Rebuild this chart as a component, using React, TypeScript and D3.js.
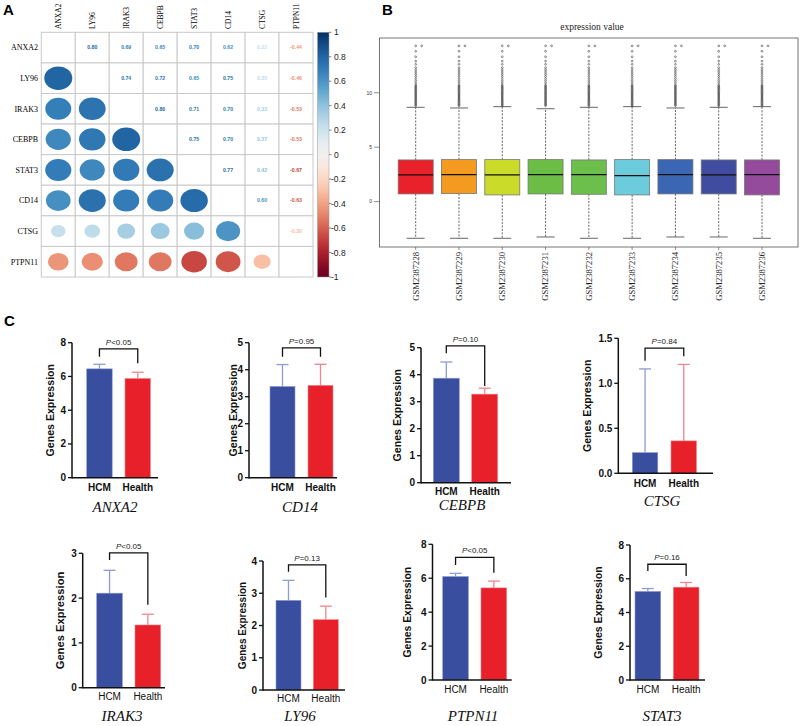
import React from "react";
import * as d3 from "d3";

// ---------- Panel A: correlation matrix ----------
const genes = ["ANXA2", "LY96", "IRAK3", "CEBPB", "STAT3", "CD14", "CTSG", "PTPN11"];
const corr = [
  [1, 0.8, 0.69, 0.65, 0.7, 0.62, 0.22, -0.44],
  [0.8, 1, 0.74, 0.72, 0.65, 0.75, 0.25, -0.46],
  [0.69, 0.74, 1, 0.8, 0.71, 0.7, 0.33, -0.53],
  [0.65, 0.72, 0.8, 1, 0.75, 0.7, 0.37, -0.53],
  [0.7, 0.65, 0.71, 0.75, 1, 0.77, 0.42, -0.67],
  [0.62, 0.75, 0.7, 0.7, 0.77, 1, 0.6, -0.63],
  [0.22, 0.25, 0.33, 0.37, 0.42, 0.6, 1, -0.3],
  [-0.44, -0.46, -0.53, -0.53, -0.67, -0.63, -0.3, 1],
];
const colorbarTicks = [1, 0.8, 0.6, 0.4, 0.2, 0, -0.2, -0.4, -0.6, -0.8, -1];

// ---------- Panel B: expression boxplots ----------
const samples = [
  "GSM2387228", "GSM2387229", "GSM2387230", "GSM2387231", "GSM2387232",
  "GSM2387233", "GSM2387234", "GSM2387235", "GSM2387236",
];
const boxColors = ["#e8212b", "#f59a20", "#cbdb2a", "#6cbd45", "#6dbf4c", "#6ccbdd", "#3a66b3", "#404c9f", "#944b9c"];
const q1 = [0.71, 0.74, 0.62, 0.71, 0.68, 0.62, 0.71, 0.71, 0.62];
const medians = [2.45, 2.48, 2.45, 2.48, 2.48, 2.39, 2.48, 2.45, 2.48];
const q3 = [3.83, 3.86, 3.86, 3.86, 3.83, 3.86, 3.86, 3.83, 3.83];
const whiskerHigh = [8.66, 8.6, 8.72, 8.53, 8.66, 8.72, 8.6, 8.66, 8.72];
const whiskerLow = [-3.36, -3.36, -3.36, -3.24, -3.36, -3.36, -3.24, -3.24, -3.36];
const outliers = [
  8.8, 8.9, 9.0, 9.1, 9.2, 9.3, 9.4, 9.5, 9.6, 9.7, 9.8, 9.9, 10.0, 10.1, 10.2,
  10.3, 10.4, 10.5, 10.6, 10.7, 10.9, 11.1, 11.3, 11.5, 11.7, 11.9, 12.1, 12.3,
  12.6, 12.9, 13.3, 13.8, 14.3,
];
const boxTicks = [0, 5, 10];

// ---------- Panel C: bar charts ----------
const barGenes = ["ANXA2", "CD14", "CEBPB", "CTSG", "IRAK3", "LY96", "PTPN11", "STAT3"];
const groups = ["HCM", "Health"];
const hcmMean = [6.45, 3.38, 3.87, 0.23, 2.11, 2.78, 6.1, 5.25];
const hcmErrTop = [6.72, 4.19, 4.47, 1.16, 2.62, 3.4, 6.29, 5.42];
const healthMean = [5.88, 3.42, 3.28, 0.36, 1.4, 2.18, 5.43, 5.5];
const healthErrTop = [6.25, 4.2, 3.5, 1.21, 1.64, 2.6, 5.83, 5.78];
const pLabels = ["<0.05", "=0.95", "=0.10", "=0.84", "<0.05", "=0.13", "<0.05", "=0.16"];
const yMax = [8, 5, 5, 1.5, 3, 4, 8, 8];
const yStep = [2, 1, 1, 0.5, 1, 1, 2, 2];
const bracketTop = [7.64, 4.81, 5.07, 1.39, 3.01, 3.88, 7.23, 6.86];
const bracketLeftEnd = [7.17, 4.48, 4.79, 1.25, 2.85, 3.67, 6.78, 6.46];
const bracketRightEnd = [6.78, 4.48, 3.58, 1.3, 1.85, 2.87, 6.33, 6.16];

// layout of each small bar chart (pixels)
const barLayout = [
  { ax: 72, y0: 477.7, yTop: 342.7, x1: 86.7, x2: 125, bw: 25.5, end: 158, ylab: 50, fs: 10.6, xlab: 491, nx: 115, ny: 512, bold: true },
  { ax: 249, y0: 477.7, yTop: 342.7, x1: 270, x2: 308, bw: 25, end: 337, ylab: 233, fs: 10.6, xlab: 491, nx: 300, ny: 512, bold: true },
  { ax: 421, y0: 482.7, yTop: 347.7, x1: 433.3, x2: 471.7, bw: 26, end: 511, ylab: 397, fs: 10.6, xlab: 495, nx: 462, ny: 510, bold: true },
  { ax: 618.3, y0: 473.3, yTop: 338.3, x1: 632.3, x2: 671, bw: 25.5, end: 713, ylab: 587, fs: 10.6, xlab: 487, nx: 662, ny: 506, bold: true },
  { ax: 82.7, y0: 687.7, yTop: 553.3, x1: 96.7, x2: 135, bw: 25.7, end: 165, ylab: 60, fs: 11.2, xlab: 700, nx: 122, ny: 721, bold: false },
  { ax: 263, y0: 690, yTop: 561, x1: 276, x2: 313.3, bw: 25, end: 345, ylab: 242, fs: 10, xlab: 702, nx: 300, ny: 721, bold: false },
  { ax: 432.5, y0: 680, yTop: 544.3, x1: 442.7, x2: 481, bw: 25.7, end: 511.7, ylab: 407, fs: 10.4, xlab: 693, nx: 473, ny: 721, bold: false },
  { ax: 630, y0: 680, yTop: 545, x1: 635, x2: 673.3, bw: 25.7, end: 705, ylab: 598, fs: 10.6, xlab: 693, nx: 662, ny: 721, bold: false },
];

const SANS = "'Liberation Sans', Arial, sans-serif";
const SERIF = "'Liberation Serif', 'Times New Roman', serif";

const rdbu = (r: number) => d3.interpolateRdBu((r + 1) / 2);

const CorrPanel = () => {
  const left = 41.3, right = 313, top = 32.3, bottom = 277;
  const x = d3.scaleBand<number>().domain(d3.range(genes.length)).range([left, right]);
  const y = d3.scaleBand<number>().domain(d3.range(genes.length)).range([top, bottom]);
  const cw = x.bandwidth(), ch = y.bandwidth();
  const cbY = d3.scaleLinear().domain([1, -1]).range([top, bottom]);
  const stops = d3.range(0, 1.0001, 0.05);
  return (
    <g>
      <defs>
        <linearGradient id="cbar" x1="0" y1="0" x2="0" y2="1">
          {stops.map((t) => (
            <stop key={t} offset={t} stopColor={rdbu(1 - 2 * t)} />
          ))}
        </linearGradient>
      </defs>
      {genes.map((g, i) =>
        genes.map((h, j) => (
          <rect key={`c${i}-${j}`} x={x(j)} y={y(i)} width={cw} height={ch} fill="white" stroke="#c9c9c9" strokeWidth={1} />
        ))
      )}
      {corr.map((row, i) =>
        row.map((r, j) => {
          const cx = (x(j) as number) + cw / 2;
          const cy = (y(i) as number) + ch / 2;
          if (j < i) {
            const s = Math.sqrt(Math.abs(r));
            return <ellipse key={`e${i}-${j}`} cx={cx} cy={cy} rx={cw * 0.46 * s} ry={ch * 0.43 * s} fill={rdbu(r)} />;
          }
          if (j > i) {
            return (
              <text key={`t${i}-${j}`} x={cx} y={cy + 1.8} textAnchor="middle" fontFamily={SANS} fontSize={5.2} fontWeight="bold" fill={rdbu(r)}>
                {r.toFixed(2)}
              </text>
            );
          }
          return null;
        })
      )}
      {genes.map((g, i) => (
        <text key={`r${g}`} x={38} y={(y(i) as number) + ch / 2 + 2.8} textAnchor="end" fontFamily={SERIF} fontSize={8}>
          {g}
        </text>
      ))}
      {genes.map((g, j) => (
        <text
          key={`col${g}`}
          transform={`translate(${(x(j) as number) + cw / 2 + 2.6},29) rotate(-90)`}
          fontFamily={SERIF}
          fontSize={7.5}
        >
          {g}
        </text>
      ))}
      <rect x={317.5} y={top} width={11.5} height={bottom - top} fill="url(#cbar)" stroke="#999" strokeWidth={0.5} />
      {colorbarTicks.map((t) => (
        <g key={`cb${t}`}>
          <line x1={329} x2={331.5} y1={cbY(t)} y2={cbY(t)} stroke="#333" strokeWidth={0.6} />
          <text x={t < 0 ? 331 : 334} y={cbY(t) + 3} fontFamily={SANS} fontSize={8.5} fill="#222">
            {t < 0 ? `-${Math.abs(t)}` : t}
          </text>
        </g>
      ))}
    </g>
  );
};

const BoxPanel = () => {
  const left = 379.5, right = 798, top = 38, bottom = 247;
  const y = d3.scaleLinear().domain([-4.16, 15.02]).range([bottom, top]);
  const x = d3.scalePoint<string>().domain(samples).range([415.7, 762]);
  const bw = 35;
  const cap = 9;
  return (
    <g>
      <text x={592} y={30} textAnchor="middle" fontFamily={SERIF} fontSize={9.5} fill="#222">
        expression value
      </text>
      <rect x={left} y={top} width={right - left} height={bottom - top} fill="white" stroke="#666" strokeWidth={0.9} />
      {boxTicks.map((t) => (
        <g key={`bt${t}`}>
          <line x1={374} x2={left} y1={y(t)} y2={y(t)} stroke="#444" strokeWidth={0.6} />
          <text x={372} y={y(t) + 1.8} textAnchor="end" fontFamily={SANS} fontSize={5} fill="#333">
            {t}
          </text>
        </g>
      ))}
      {samples.map((s, i) => {
        const cx = x(s) as number;
        return (
          <g key={s}>
            <line x1={cx} x2={cx} y1={y(q3[i])} y2={y(whiskerHigh[i])} stroke="#222" strokeWidth={0.7} strokeDasharray="2,1.4" />
            <line x1={cx} x2={cx} y1={y(q1[i])} y2={y(whiskerLow[i])} stroke="#222" strokeWidth={0.7} strokeDasharray="2,1.4" />
            <line x1={cx - cap} x2={cx + cap} y1={y(whiskerHigh[i])} y2={y(whiskerHigh[i])} stroke="#555" strokeWidth={0.9} />
            <line x1={cx - cap} x2={cx + cap} y1={y(whiskerLow[i])} y2={y(whiskerLow[i])} stroke="#555" strokeWidth={0.9} />
            {outliers.map((o) => (
              <circle key={`o${o}`} cx={cx} cy={y(o)} r={0.9} fill="none" stroke="#333" strokeWidth={0.55} />
            ))}
            <circle cx={cx + 6} cy={y(outliers[outliers.length - 1])} r={0.9} fill="none" stroke="#333" strokeWidth={0.55} />
            <rect x={cx - bw / 2} y={y(q3[i])} width={bw} height={y(q1[i]) - y(q3[i])} fill={boxColors[i]} stroke="#777" strokeWidth={0.8} />
            <line x1={cx - bw / 2} x2={cx + bw / 2} y1={y(medians[i])} y2={y(medians[i])} stroke="#111" strokeWidth={1.2} />
            <line x1={cx} x2={cx} y1={bottom} y2={bottom + 3} stroke="#444" strokeWidth={0.6} />
            <text transform={`translate(${cx + 2.9},${bottom + 5}) rotate(-90)`} textAnchor="end" fontFamily={SERIF} fontSize={8.6} fill="#222">
              {s}
            </text>
          </g>
        );
      })}
    </g>
  );
};

const BarChart = ({ i }: { i: number }) => {
  const L = barLayout[i];
  const y = d3.scaleLinear().domain([0, yMax[i]]).range([L.y0, L.yTop]);
  const ticks = d3.range(0, yMax[i] + 1e-6, yStep[i]);
  const fmt = yStep[i] < 1 ? d3.format(".1f") : d3.format("d");
  const means = [hcmMean[i], healthMean[i]];
  const errs = [hcmErrTop[i], healthErrTop[i]];
  const xs = [L.x1, L.x2];
  const fills = ["#3a4ea0", "#e7202a"];
  const errColors = ["#8e9bd4", "#f2858d"];
  const c1 = L.x1 + L.bw / 2, c2 = L.x2 + L.bw / 2;
  const fw = L.bold ? "bold" : "normal";
  return (
    <g>
      {groups.map((g, k) => (
        <g key={g}>
          <line x1={xs[k] + L.bw / 2} x2={xs[k] + L.bw / 2} y1={y(means[k])} y2={y(errs[k])} stroke={errColors[k]} strokeWidth={1.3} />
          <line x1={xs[k] + L.bw / 2 - 6} x2={xs[k] + L.bw / 2 + 6} y1={y(errs[k])} y2={y(errs[k])} stroke={errColors[k]} strokeWidth={1.3} />
          <rect x={xs[k]} y={y(means[k])} width={L.bw} height={L.y0 - y(means[k])} fill={fills[k]} stroke={errColors[k]} strokeWidth={0.6} />
          <text x={xs[k] + L.bw / 2} y={L.xlab} textAnchor="middle" fontFamily={SANS} fontSize={10} fontWeight={fw} fill="#111">
            {g}
          </text>
        </g>
      ))}
      <line x1={L.ax} x2={L.ax} y1={L.y0 + 0.7} y2={L.yTop} stroke="#111" strokeWidth={1.5} />
      <line x1={L.ax} x2={L.end} y1={L.y0} y2={L.y0} stroke="#111" strokeWidth={1.5} />
      {ticks.map((t) => (
        <g key={`yt${t}`}>
          <line x1={L.ax - 4} x2={L.ax} y1={y(t)} y2={y(t)} stroke="#111" strokeWidth={1.3} />
          <text x={L.ax - 6} y={y(t) + 3.5} textAnchor="end" fontFamily={SANS} fontSize={10} fontWeight="bold" fill="#111">
            {fmt(t)}
          </text>
        </g>
      ))}
      <text
        transform={`translate(${L.ylab},${(L.y0 + L.yTop) / 2}) rotate(-90)`}
        textAnchor="middle"
        dominantBaseline="central"
        fontFamily={SANS}
        fontSize={L.fs}
        fontWeight="bold"
        fill="#111"
      >
        Genes Expression
      </text>
      <path
        d={`M${c1},${y(bracketLeftEnd[i])}V${y(bracketTop[i])}H${c2}V${y(bracketRightEnd[i])}`}
        fill="none"
        stroke="#111"
        strokeWidth={1.3}
      />
      <text x={(c1 + c2) / 2} y={y(bracketTop[i]) - 4} textAnchor="middle" fontFamily={SANS} fontSize={8} fill="#222">
        <tspan fontStyle="italic">P</tspan>
        {pLabels[i]}
      </text>
      <text x={L.nx} y={L.ny} textAnchor="middle" fontFamily={SERIF} fontStyle="italic" fontSize={15} fill="#111">
        {barGenes[i]}
      </text>
    </g>
  );
};

const App = () => {
  return (
    <div style={{ position: "absolute", left: 0, top: 0 }}>
      <svg width={800} height={726} style={{ display: "block", background: "white" }}>
        <text x={3} y={15} fontFamily={SANS} fontWeight="bold" fontSize={15}>A</text>
        <text x={382} y={15} fontFamily={SANS} fontWeight="bold" fontSize={15}>B</text>
        <text x={4} y={326} fontFamily={SANS} fontWeight="bold" fontSize={15}>C</text>
        <CorrPanel />
        <BoxPanel />
        {barGenes.map((g, i) => (
          <BarChart key={g} i={i} />
        ))}
      </svg>
    </div>
  );
};

export default App;
